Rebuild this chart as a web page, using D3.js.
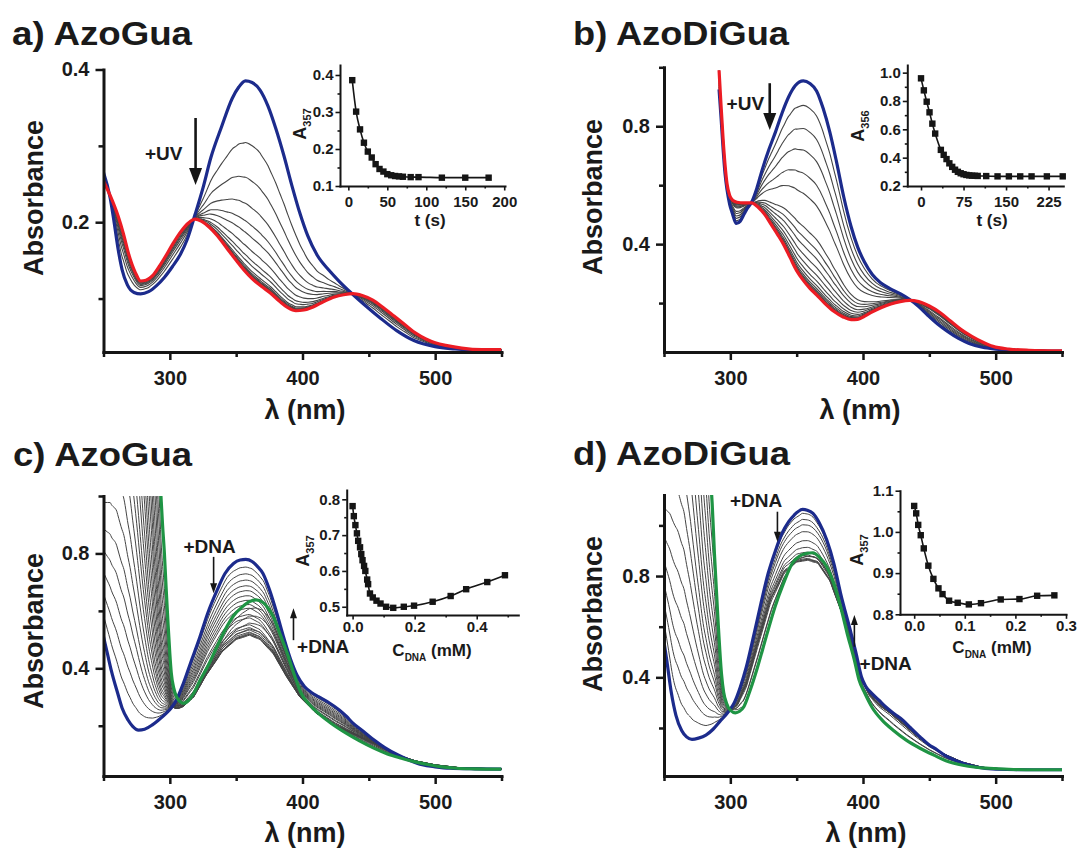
<!DOCTYPE html>
<html><head><meta charset="utf-8">
<script src="https://cdn.jsdelivr.net/npm/d3@7"></script>
<style>
body{margin:0;background:#fff;}
svg{display:block;}
</style></head><body>
<svg id="chart" width="1079" height="850"></svg>
<script>
// ---------------- DATA ----------------
const panelTitles = ["a) AzoGua", "b) AzoDiGua", "c) AzoGua", "d) AzoDiGua"];
const xMajorTicks = [300, 400, 500];
const xMinorTicks = [250, 350, 450, 550];

// Panel a : AzoGua under UV  ([wavelength nm, absorbance])
const aBlue = [[250,0.265],[255,0.232],[258,0.2],[261,0.165],[264,0.138],[268,0.118],[273,0.108],[278,0.106],[284,0.109],[290,0.117],[296,0.128],[302,0.142],[308,0.158],[313,0.177],[319,0.21],[325,0.245],[331,0.285],[339,0.325],[347,0.362],[352,0.377],[357,0.385],[362,0.383],[368,0.373],[374,0.352],[380,0.322],[386,0.287],[392,0.248],[398,0.212],[404,0.182],[411,0.157],[420,0.137],[428,0.122],[437,0.107],[448,0.09],[459,0.074],[471,0.058],[484,0.045],[500,0.037],[515,0.034],[530,0.032],[550,0.031]];
const aRed = [[250,0.254],[255,0.235],[261,0.208],[265,0.185],[269,0.158],[274,0.134],[278,0.123],[282,0.124],[287,0.13],[292,0.142],[297,0.156],[302,0.171],[308,0.187],[314,0.199],[319,0.204],[324,0.201],[330,0.193],[336,0.182],[343,0.166],[350,0.15],[356,0.137],[362,0.126],[369,0.116],[376,0.107],[383,0.096],[389,0.088],[395,0.084],[401,0.085],[408,0.089],[416,0.096],[424,0.102],[431,0.105],[438,0.1065],[445,0.104],[453,0.098],[461,0.088],[469,0.077],[477,0.066],[485,0.055],[493,0.047],[500,0.042],[510,0.038],[520,0.035],[535,0.033],[550,0.033]];
const aInsetT = [5,10,15,20,25,30,35,40,45,50,55,60,65,70,80,90,120,150,180];
const aInsetA = [0.386,0.301,0.253,0.217,0.193,0.177,0.159,0.146,0.139,0.132,0.129,0.127,0.126,0.125,0.124,0.124,0.1225,0.1225,0.1225];

// Panel b : AzoDiGua under UV
const bBlue = [[291.5,0.925],[293,0.83],[294.6,0.72],[296,0.64],[297.5,0.585],[299.5,0.535],[301.5,0.505],[304.5,0.47],[307.5,0.478],[310.5,0.503],[313,0.523],[316,0.542],[320,0.59],[324,0.652],[329,0.72],[334,0.78],[339,0.845],[344,0.9],[349,0.938],[355,0.954],[360,0.945],[365,0.92],[370,0.86],[375,0.78],[380,0.68],[385.5,0.56],[391,0.46],[396,0.39],[401,0.34],[407,0.297],[413,0.27],[420,0.25],[428,0.232],[435,0.213],[442,0.188],[449,0.158],[456,0.13],[464,0.103],[472,0.08],[480,0.063],[490,0.05],[500,0.044],[515,0.04],[530,0.038],[550,0.037]];
const bRed = [[291.5,0.99],[293,0.87],[294.5,0.76],[296,0.67],[297.5,0.605],[299.5,0.565],[302,0.548],[305,0.542],[310,0.54],[316,0.54],[321,0.525],[326,0.5],[331,0.465],[336,0.43],[340,0.4],[345,0.355],[350,0.31],[355,0.277],[360,0.25],[365,0.228],[371,0.2],[378,0.172],[385,0.153],[391,0.144],[396,0.145],[401,0.155],[407,0.17],[414,0.185],[421,0.197],[428,0.205],[435,0.209],[442,0.205],[450,0.19],[458,0.168],[466,0.139],[474,0.11],[482,0.087],[490,0.068],[498,0.053],[510,0.044],[525,0.04],[550,0.038]];
const bInsetT = [0,5,10,15,20,25,35,40,45,50,55,60,65,70,75,80,85,90,95,100,115,135,155,175,195,222,250];
const bInsetA = [0.96,0.875,0.795,0.72,0.64,0.57,0.455,0.42,0.39,0.36,0.335,0.315,0.3,0.29,0.283,0.278,0.275,0.273,0.272,0.271,0.27,0.268,0.268,0.268,0.268,0.268,0.268];

// Panel c : AzoGua + DNA
const cBlue = [[250,0.51],[253,0.45],[256,0.39],[260.7,0.313],[264,0.262],[268.5,0.22],[272,0.198],[276.4,0.185],[281,0.188],[286.8,0.203],[292,0.222],[297.2,0.243],[301,0.262],[305,0.29],[310,0.345],[315.5,0.417],[322,0.5],[328.5,0.591],[335,0.665],[341.6,0.73],[348,0.765],[353,0.777],[357.3,0.779],[362,0.772],[366,0.755],[370.2,0.73],[375,0.675],[380.7,0.591],[386,0.505],[391.2,0.429],[396,0.375],[401.6,0.336],[407,0.315],[412,0.301],[420,0.28],[427.7,0.255],[433,0.233],[438,0.209],[446,0.18],[453.7,0.151],[462,0.124],[472,0.098],[481,0.079],[490.3,0.064],[500,0.057],[511,0.052],[530,0.05],[550,0.049]];
const cGreen = [[292.6,1.06],[293.3,1.0],[294.5,0.9],[295.9,0.8],[297.2,0.68],[298.5,0.568],[300,0.45],[301.1,0.383],[303,0.33],[305,0.301],[307.5,0.285],[310.3,0.278],[314,0.288],[318,0.313],[323,0.36],[328.5,0.406],[335,0.47],[341.6,0.533],[348,0.583],[354.6,0.614],[360,0.632],[365,0.638],[370,0.63],[374,0.61],[378,0.58],[383,0.52],[388.5,0.452],[394,0.375],[399,0.313],[405,0.275],[412,0.243],[422,0.207],[432.9,0.174],[443,0.147],[453.7,0.122],[464,0.102],[474.6,0.087],[485,0.074],[495.5,0.064],[505,0.057],[516,0.052],[530,0.05],[550,0.049]];
const cMid = [[250,0.45],[260,0.33],[270,0.24],[280,0.21],[290,0.22],[300,0.245],[305,0.25],[310,0.265],[318,0.3],[328,0.38],[340,0.46],[350,0.5],[360,0.515],[368,0.5],[378,0.45],[388,0.37],[398,0.3],[410,0.245],[425,0.2],[440,0.168],[455,0.135],[470,0.1],[485,0.078],[500,0.064],[520,0.053],[550,0.05]];
const cBoundLow = [[250,0.45],[260,0.33],[270,0.24],[280,0.21],[290,0.225],[300,0.26],[305,0.275]];
const cDnaBand = [[250,0.80],[255,0.93],[260,1.0],[265,0.97],[270,0.85],[275,0.66],[280,0.45],[284,0.3],[288,0.19],[291,0.125],[293.3,0.088],[295.9,0.062],[298.5,0.036],[301,0.013],[305,0.0035],[310,0.0005],[320,0],[550,0]];
const cDnaLevels = [0.1,0.2,0.3,0.4,0.5,0.62,0.75,0.9,1.05,1.2,1.4,1.6,1.85,2.1,2.4,2.75,3.1,3.5,4.0,4.6,5.3,6.1,7.0];
const cInsetC = [0,0.004,0.009,0.014,0.018,0.024,0.028,0.032,0.037,0.041,0.047,0.05,0.056,0.065,0.077,0.09,0.108,0.131,0.165,0.198,0.258,0.316,0.366,0.434,0.491];
const cInsetA = [0.781,0.753,0.728,0.705,0.684,0.666,0.647,0.63,0.614,0.6,0.576,0.563,0.537,0.526,0.517,0.509,0.5,0.497,0.5,0.503,0.514,0.53,0.549,0.569,0.588];

// Panel d : AzoDiGua + DNA
const dBlue = [[250,0.54],[252,0.47],[255.5,0.34],[259,0.25],[263.3,0.19],[267,0.165],[271.1,0.155],[276,0.16],[281.6,0.172],[287,0.195],[292,0.225],[298.5,0.264],[303,0.3],[307.6,0.363],[312,0.44],[318,0.574],[323,0.69],[328.5,0.81],[334,0.9],[338.9,0.968],[344,1.015],[348,1.04],[354.5,1.063],[358,1.06],[362.3,1.047],[367,1.01],[372.7,0.942],[378,0.85],[383.1,0.732],[391,0.574],[395,0.49],[398.8,0.402],[402,0.365],[406.6,0.337],[412,0.31],[417,0.284],[423,0.258],[430,0.231],[436,0.2],[443,0.165],[449,0.137],[456,0.113],[462,0.091],[469.1,0.073],[477,0.058],[484.7,0.047],[500,0.037],[520,0.035],[550,0.035]];
const dGreen = [[285.8,1.13],[286.3,1.087],[288,0.89],[290.7,0.626],[293.3,0.416],[295,0.34],[297.2,0.297],[300,0.27],[303.7,0.26],[307,0.266],[310.2,0.284],[315,0.35],[320.6,0.442],[327,0.56],[333.7,0.679],[340,0.77],[346.7,0.85],[352,0.878],[357,0.889],[362.3,0.892],[367,0.875],[372.7,0.837],[378,0.77],[383.1,0.679],[388,0.575],[393.5,0.468],[397,0.39],[401.4,0.337],[407,0.28],[414.4,0.231],[423,0.19],[432.6,0.152],[443,0.12],[453.4,0.093],[463,0.07],[474.3,0.054],[485,0.045],[495,0.041],[510,0.037],[530,0.035],[550,0.035]];
const dMid = [[250,0.5],[260,0.3],[270,0.2],[280,0.2],[290,0.23],[300,0.265],[305,0.29],[312,0.37],[320,0.52],[330,0.7],[340,0.81],[350,0.855],[358,0.862],[366,0.85],[375,0.78],[385,0.64],[393,0.49],[399,0.39],[405,0.33],[412,0.29],[420,0.26],[430,0.215],[440,0.17],[450,0.13],[460,0.1],[475,0.065],[490,0.045],[510,0.037],[550,0.035]];
const dBoundLow = [[250,0.5],[260,0.3],[270,0.2],[280,0.2],[290,0.228],[297,0.252]];
const dDnaBand = [[250,0.80],[255,0.93],[260,1.0],[265,0.96],[270,0.82],[275,0.6],[280,0.4],[284,0.28],[288,0.19],[290.7,0.11],[293.3,0.052],[297.2,0.014],[300,0.004],[305,0],[550,0]];
const dDnaLevels = [0.1,0.2,0.3,0.42,0.55,0.7,0.85,1.0,1.2,1.4,1.65,1.95,2.3,2.7,3.15];
const dInsetC = [0.0,0.004,0.008,0.013,0.019,0.028,0.038,0.048,0.056,0.069,0.086,0.108,0.132,0.171,0.208,0.243,0.277];
const dInsetA = [1.063,1.045,1.017,0.992,0.96,0.918,0.886,0.863,0.849,0.833,0.828,0.824,0.827,0.836,0.837,0.845,0.846];

// inset tick values
const aInsetXTicks = [0,50,100,150,200], aInsetXMinor = [25,75,125,175];
const aInsetYTicks = [0.1,0.2,0.3,0.4], aInsetYMinor = [0.15,0.25,0.35];
const bInsetXTicks = [0,75,150,225], bInsetXMinor = [37.5,112.5,187.5];
const bInsetYTicks = [0.2,0.4,0.6,0.8,1.0], bInsetYMinor = [0.3,0.5,0.7,0.9];
const cInsetXTicks = [0,0.2,0.4], cInsetXMinor = [0.1,0.3,0.5];
const cInsetYTicks = [0.5,0.6,0.7,0.8], cInsetYMinor = [0.55,0.65,0.75];
const dInsetXTicks = [0,0.1,0.2,0.3], dInsetXMinor = [0.05,0.15,0.25];
const dInsetYTicks = [0.8,0.9,1.0,1.1], dInsetYMinor = [0.85,0.95,1.05];

// ---------------- DRAWING ----------------
const FONT = "'Liberation Sans', Arial, Helvetica, sans-serif";
const BLUE = "#1c2b8c", RED = "#ec1c24", GREEN = "#1f9444", GRAY = "#454545", INK = "#151515";
const svg = d3.select("#chart").attr("font-family", FONT);
const defs = svg.append("defs");

function interp(pairs, x) {
  if (x <= pairs[0][0]) return pairs[0][1];
  const n = pairs.length;
  if (x >= pairs[n - 1][0]) return pairs[n - 1][1];
  const i = d3.bisector(d => d[0]).right(pairs, x);
  const p0 = pairs[i - 1], p1 = pairs[i];
  return p0[1] + (x - p0[0]) / (p1[0] - p0[0]) * (p1[1] - p0[1]);
}
function knots(lo, hi, lists) {
  const s = new Set([lo, hi]);
  lists.forEach(l => l.forEach(p => { if (p[0] >= lo && p[0] <= hi) s.add(p[0]); }));
  return Array.from(s).sort((a, b) => a - b);
}
function pathPositions(vals) {
  const a0 = vals[0], iMin = d3.minIndex(vals), aMin = vals[iMin], aEnd = vals[vals.length - 1];
  return vals.map((v, i) => i <= iMin ? (a0 - v) / (a0 - aMin) : 1 + (v - aMin) / (aEnd - aMin));
}

let clipId = 0;
function panel(xRange, yDomain, yRange, yMajor, yMinor) {
  const x = d3.scaleLinear().domain([250, 550]).range(xRange);
  const y = d3.scaleLinear().domain(yDomain).range(yRange);
  const id = "clip" + (clipId++);
  defs.append("clipPath").attr("id", id).append("rect")
    .attr("x", xRange[0]).attr("y", yRange[1]).attr("width", xRange[1] - xRange[0]).attr("height", yRange[0] - yRange[1]);
  const plot = svg.append("g").attr("clip-path", `url(#${id})`);
  const line = d3.line().x(d => x(d[0])).y(d => y(d[1])).curve(d3.curveMonotoneX);
  return {x, y, plot, line, yMajor, yMinor};
}
function mainAxes(p) {
  const {x, y} = p;
  const g = svg.append("g");
  const yb = y.range()[0], xl = x.range()[0];
  g.append("g").attr("transform", `translate(0,${yb})`)
    .call(d3.axisBottom(x).tickValues(xMinorTicks).tickSize(5).tickSizeOuter(0).tickFormat(() => ""))
    .call(s => s.select(".domain").remove());
  g.append("g").attr("transform", `translate(0,${yb})`)
    .call(d3.axisBottom(x).tickValues(xMajorTicks).tickSize(8).tickSizeOuter(0).tickPadding(11).tickFormat(d3.format("d")));
  g.append("g").attr("transform", `translate(${xl},0)`)
    .call(d3.axisLeft(y).tickValues(p.yMinor).tickSize(5).tickSizeOuter(0).tickFormat(() => ""))
    .call(s => s.select(".domain").remove());
  g.append("g").attr("transform", `translate(${xl},0)`)
    .call(d3.axisLeft(y).tickValues(p.yMajor).tickSize(8).tickSizeOuter(0).tickPadding(6).tickFormat(d3.format(".1f")));
  g.selectAll(".domain").attr("stroke", INK).attr("stroke-width", 3).attr("stroke-linecap", "square");
  g.selectAll(".tick line").attr("stroke", INK).attr("stroke-width", 2.5);
  g.selectAll(".tick text").attr("font-family", FONT).attr("font-size", 20).attr("font-weight", "bold").attr("fill", "#1a1a1a");
}
function texts(title, tx, ty, tLen, absX, absY, lamX, lamY) {
  svg.append("text").attr("x", tx).attr("y", ty).attr("font-size", 33).attr("font-weight", "bold")
    .attr("fill", "#1a1a1a").attr("textLength", tLen).attr("lengthAdjust", "spacingAndGlyphs").text(title);
  svg.append("text").attr("transform", `translate(${absX},${absY}) rotate(-90)`).attr("text-anchor", "middle")
    .attr("font-size", 27).attr("font-weight", "bold").attr("fill", "#1a1a1a").text("Absorbance");
  svg.append("text").attr("x", lamX).attr("y", lamY).attr("text-anchor", "middle")
    .attr("font-size", 27).attr("font-weight", "bold").attr("fill", "#1a1a1a").text("λ (nm)");
}
function arrow(p, lam, a0, a1, thick) {
  const X = p.x(lam), Y0 = p.y(a0), Y1 = p.y(a1);
  const dir = Y1 > Y0 ? 1 : -1;
  const hl = thick ? 17 : 10, hw = thick ? 6.5 : 3.5;
  svg.append("line").attr("x1", X).attr("x2", X).attr("y1", Y0).attr("y2", Y1 - dir * hl * 0.6)
    .attr("stroke", INK).attr("stroke-width", thick ? 2.6 : 1.6);
  svg.append("path").attr("d", `M${X},${Y1} L${X - hw},${Y1 - dir * hl} L${X + hw},${Y1 - dir * hl} Z`).attr("fill", INK);
}
function label(p, lam, a, txt) {
  svg.append("text").attr("x", p.x(lam)).attr("y", p.y(a)).attr("font-size", 19).attr("font-weight", "bold")
    .attr("fill", "#1a1a1a").text(txt);
}
function drawLine(p, data, color, w) {
  p.plot.append("path").datum(data).attr("d", p.line).attr("fill", "none")
    .attr("stroke", color).attr("stroke-width", w).attr("stroke-linejoin", "round");
}

function inset(o) {
  const x = d3.scaleLinear().domain(o.xd).range(o.xr);
  const y = d3.scaleLinear().domain(o.yd).range(o.yr);
  const g = svg.append("g");
  const yb = o.yr[0], xl = o.xr[0];
  g.append("g").attr("transform", `translate(0,${yb})`)
    .call(d3.axisBottom(x).tickValues(o.xMinor).tickSize(2.5).tickSizeOuter(0).tickFormat(() => ""))
    .call(s => s.select(".domain").remove());
  g.append("g").attr("transform", `translate(0,${yb})`)
    .call(d3.axisBottom(x).tickValues(o.xMajor).tickSize(4.5).tickSizeOuter(0).tickPadding(o.xpad).tickFormat(d3.format(o.xf)));
  g.append("g").attr("transform", `translate(${xl},0)`)
    .call(d3.axisLeft(y).tickValues(o.yMinor).tickSize(2.5).tickSizeOuter(0).tickFormat(() => ""))
    .call(s => s.select(".domain").remove());
  g.append("g").attr("transform", `translate(${xl},0)`)
    .call(d3.axisLeft(y).tickValues(o.yMajor).tickSize(4.5).tickSizeOuter(0).tickPadding(2).tickFormat(d3.format(".1f")));
  g.selectAll(".domain").attr("stroke", INK).attr("stroke-width", 2).attr("stroke-linecap", "square");
  g.selectAll(".tick line").attr("stroke", INK).attr("stroke-width", 1.6);
  g.selectAll(".tick text").attr("font-family", FONT).attr("font-size", 15).attr("font-weight", "bold").attr("fill", "#1a1a1a");
  const pts = o.xs.map((v, i) => [v, o.ys[i]]);
  g.append("path").datum(pts).attr("fill", "none").attr("stroke", INK).attr("stroke-width", 1.6)
    .attr("d", d3.line().x(d => x(d[0])).y(d => y(d[1])).curve(d3.curveMonotoneX));
  g.selectAll("rect.pt").data(pts).join("rect").attr("class", "pt")
    .attr("x", d => x(d[0]) - 3.2).attr("y", d => y(d[1]) - 3.2).attr("width", 6.4).attr("height", 6.4).attr("fill", INK);
  // y label A_sub
  const yl = svg.append("text").attr("transform", `translate(${o.ylx},${o.yly}) rotate(-90)`).attr("text-anchor", "middle")
    .attr("font-size", 18).attr("font-weight", "bold").attr("fill", "#1a1a1a");
  yl.append("tspan").text("A");
  yl.append("tspan").attr("dy", 5).attr("font-size", 11).text(o.sub);
  // x label
  const xlab = svg.append("text").attr("x", o.xlx).attr("y", o.xly).attr("text-anchor", "middle")
    .attr("font-size", 17).attr("font-weight", "bold").attr("fill", "#1a1a1a");
  if (o.xsub) {
    xlab.append("tspan").text("C");
    xlab.append("tspan").attr("dy", 5).attr("font-size", 10).text("DNA");
    xlab.append("tspan").attr("dy", -5).text(" (mM)");
  } else {
    xlab.text(o.xlabel);
  }
}

// ---------- Panel a ----------
const pa = panel([103.5, 501.5], [0.03, 0.4], [352, 69.5], [0.2, 0.4], [0.1, 0.3]);
{
  const aEnd = aInsetA[aInsetA.length - 1];
  const xs = knots(250, 550, [aBlue, aRed]);
  aInsetA.slice(1, 16).forEach(v => {
    const f = (v - aEnd) / (aInsetA[0] - aEnd);
    drawLine(pa, xs.map(l => [l, interp(aRed, l) + f * (interp(aBlue, l) - interp(aRed, l))]), GRAY, 1.1);
  });
  drawLine(pa, aBlue, BLUE, 3.2);
  drawLine(pa, aRed, RED, 3.2);
}
mainAxes(pa);
texts(panelTitles[0], 12, 45, 180, 43, 198, 305, 419);
arrow(pa, 319.4, 0.3365, 0.2487, true);
label(pa, 281.3, 0.2815, "+UV");
inset({xd: [-10.7, 201], xr: [340, 505], yd: [0.1, 0.427], yr: [186, 65],
  xMajor: aInsetXTicks, xMinor: aInsetXMinor, yMajor: aInsetYTicks, yMinor: aInsetYMinor, xf: "d", xpad: 6,
  xs: aInsetT, ys: aInsetA, sub: "357", ylx: 306, yly: 124, xlabel: "t (s)", xlx: 430, xly: 226});

// ---------- Panel b ----------
const pb = panel([664, 1062], [0.034, 1.0], [352, 67.3], [0.4, 0.8], [0.2, 0.6, 1.0]);
{
  const bEnd = bInsetA[bInsetA.length - 1];
  const xs = knots(291.5, 550, [bBlue, bRed]);
  bInsetA.slice(1, 17).forEach(v => {
    const f = (v - bEnd) / (bInsetA[0] - bEnd);
    drawLine(pb, xs.map(l => [l, interp(bRed, l) + f * (interp(bBlue, l) - interp(bRed, l))]), GRAY, 1.1);
  });
  drawLine(pb, bBlue, BLUE, 3.2);
  drawLine(pb, bRed, RED, 3.2);
}
mainAxes(pb);
texts(panelTitles[1], 573, 45, 216, 601.5, 197, 860, 419);
arrow(pb, 329.7, 0.946, 0.787, true);
label(pb, 297.2, 0.855, "+UV");
inset({xd: [-24.2, 251], xr: [907.3, 1063.3], yd: [0.2, 1.054], yr: [186, 65],
  xMajor: bInsetXTicks, xMinor: bInsetXMinor, yMajor: bInsetYTicks, yMinor: bInsetYMinor, xf: "d", xpad: 6,
  xs: bInsetT, ys: bInsetA, sub: "356", ylx: 864, yly: 126, xlabel: "t (s)", xlx: 992, xly: 226});

// ---------- Panel c & d (DNA titration) ----------
function titration(p, blue, green, mid, boundLow, band, levels, insetA) {
  const bound = boundLow.concat(green.filter(q => q[0] >= 310));
  const xs = knots(250, 550, [blue, mid, bound, band]);
  const s = pathPositions(insetA);
  levels.forEach((k, j) => {
    const sj = s[j + 1];
    drawLine(p, xs.map(l => {
      const c = sj <= 1 ? (1 - sj) * interp(blue, l) + sj * interp(mid, l)
                        : (2 - sj) * interp(mid, l) + (sj - 1) * interp(bound, l);
      return [l, c + k * interp(band, l)];
    }), GRAY, 1.0);
  });
  drawLine(p, blue, BLUE, 3.2);
  drawLine(p, green, GREEN, 3.2);
}
const pc = panel([103.5, 501.5], [0.025, 1.0], [776, 496], [0.4, 0.8], [0.2, 0.6, 1.0]);
titration(pc, cBlue, cGreen, cMid, cBoundLow, cDnaBand, cDnaLevels, cInsetA);
mainAxes(pc);
texts(panelTitles[2], 13, 466, 179, 43, 631, 305, 842);
arrow(pc, 333, 0.788, 0.661, false);
label(pc, 310.3, 0.801, "+DNA");
arrow(pc, 393.2, 0.498, 0.609, false);
label(pc, 395.9, 0.453, "+DNA");
inset({xd: [-0.019, 0.534], xr: [346.7, 518.3], yd: [0.477, 0.826], yr: [615, 490],
  xMajor: cInsetXTicks, xMinor: cInsetXMinor, yMajor: cInsetYTicks, yMinor: cInsetYMinor, xf: ".1f", xpad: 2,
  xs: cInsetC, ys: cInsetA, sub: "357", ylx: 309, yly: 551, xsub: true, xlx: 432, xly: 656});

const pd = panel([664, 1062], [0.0104, 1.12], [776, 495], [0.4, 0.8], [0.2, 0.6, 1.0]);
titration(pd, dBlue, dGreen, dMid, dBoundLow, dDnaBand, dDnaLevels, dInsetA);
mainAxes(pd);
texts(panelTitles[3], 573, 465, 217, 602, 614, 866, 842);
arrow(pd, 335.5, 1.054, 0.935, false);
label(pd, 299.7, 1.074, "+DNA");
arrow(pd, 393.5, 0.521, 0.646, false);
label(pd, 397.4, 0.429, "+DNA");
inset({xd: [-0.028, 0.3], xr: [900, 1066], yd: [0.8, 1.1], yr: [614.3, 490.7],
  xMajor: dInsetXTicks, xMinor: dInsetXMinor, yMajor: dInsetYTicks, yMinor: dInsetYMinor, xf: ".1f", xpad: 2,
  xs: dInsetC, ys: dInsetA, sub: "357", ylx: 863, yly: 550, xsub: true, xlx: 992, xly: 653});
</script></body></html>
